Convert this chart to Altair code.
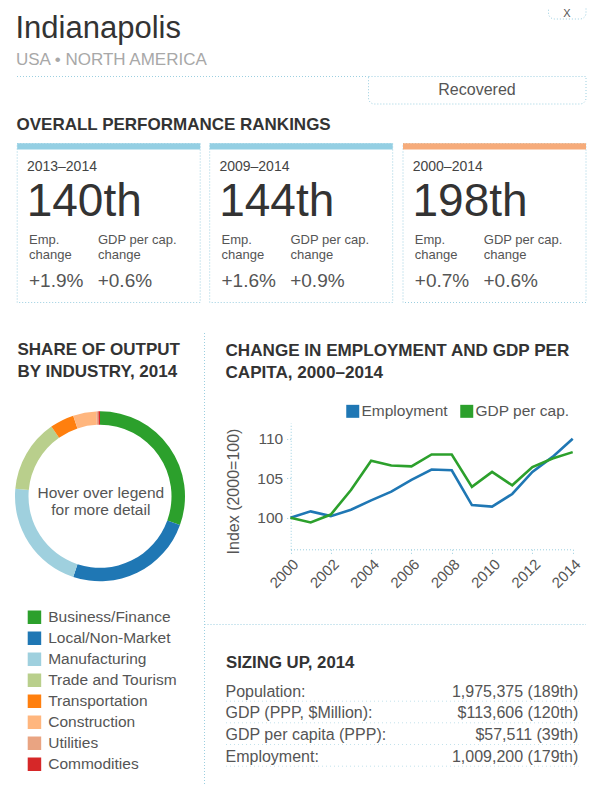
import altair as alt
import pandas as pd

# ------------------------------------------------------------------ data
city = "Indianapolis"
region = "USA • NORTH AMERICA"
status = "Recovered"
close_label = "X"

rank_title = "OVERALL PERFORMANCE RANKINGS"
periods = ["2013–2014", "2009–2014", "2000–2014"]
ranks = ["140th", "144th", "198th"]
emp_label = ["Emp.", "change"]
gdp_label = ["GDP per cap.", "change"]
emp_change = ["+1.9%", "+1.6%", "+0.7%"]
gdp_change = ["+0.6%", "+0.9%", "+0.6%"]

share_title = ["SHARE OF OUTPUT", "BY INDUSTRY, 2014"]
industries = ["Business/Finance", "Local/Non-Market", "Manufacturing",
              "Trade and Tourism", "Transportation", "Construction",
              "Utilities", "Commodities"]
shares = [30.5, 24.6, 21.3, 13.9, 4.6, 4.4, 0.4, 0.3]
donut_note = ["Hover over legend", "for more detail"]

trend_title = ["CHANGE IN EMPLOYMENT AND GDP PER", "CAPITA, 2000–2014"]
series = ["Employment", "GDP per cap."]
years = list(range(2000, 2015))
employment = [100.0, 100.8, 100.2, 101.0, 102.2, 103.3, 104.8, 106.1,
              106.0, 101.6, 101.4, 103.0, 105.8, 107.7, 110.0]
gdp_per_cap = [100.0, 99.4, 100.4, 103.5, 107.2, 106.6, 106.5, 108.0,
               108.0, 103.9, 105.8, 104.1, 106.4, 107.5, 108.3]
y_ticks = [100, 105, 110]
x_ticks = [2000, 2002, 2004, 2006, 2008, 2010, 2012, 2014]
y_title = "Index (2000=100)"

size_title = "SIZING UP, 2014"
size_labels = ["Population:", "GDP (PPP, $Million):", "GDP per capita (PPP):", "Employment:"]
size_values = ["1,975,375 (189th)", "$113,606 (120th)", "$57,511 (39th)", "1,009,200 (179th)"]

# ------------------------------------------------------------------ styles
FONT = "Liberation Sans"
DARK = "#333333"
MID = "#555555"
LIGHT = "#a8a8a8"
RULE = "#9ccfe0"
DOT = [1, 2]
industry_colors = ["#2ca02c", "#1f77b4", "#9fd0de", "#b9cf8c",
                   "#ff7f0e", "#ffb67e", "#e9a482", "#d62728"]
series_colors = ["#1f77b4", "#2ca02c"]
card_stripes = ["#94cfe3", "#94cfe3", "#f6ab7a"]

ONE = pd.DataFrame({"k": [0]})


def label(t, x, y, size, color=MID, weight="normal", align="left"):
    return alt.Chart(ONE).mark_text(
        text=t, font=FONT, fontSize=size, color=color, fontWeight=weight,
        align=align, baseline="alphabetic"
    ).encode(x=alt.value(x), y=alt.value(y))


def hrule(x1, x2, y, color=RULE, dash=DOT):
    return alt.Chart(ONE).mark_rule(color=color, strokeDash=dash, strokeWidth=1).encode(
        x=alt.value(x1), x2=alt.value(x2), y=alt.value(y))


def vrule(x, y1, y2, color=RULE, dash=DOT):
    return alt.Chart(ONE).mark_rule(color=color, strokeDash=dash, strokeWidth=1).encode(
        x=alt.value(x), y=alt.value(y1), y2=alt.value(y2))


def box(x1, x2, y1, y2, radius=0):
    kw = dict(stroke=RULE, strokeWidth=1, strokeDash=DOT, fillOpacity=0)
    if radius:
        kw.update(cornerRadiusBottomLeft=radius, cornerRadiusBottomRight=radius)
    return alt.Chart(ONE).mark_rect(**kw).encode(
        x=alt.value(x1), x2=alt.value(x2), y=alt.value(y1), y2=alt.value(y2))


def band(x1, x2, y1, y2, color):
    return alt.Chart(ONE).mark_rect(color=color).encode(
        x=alt.value(x1), x2=alt.value(x2), y=alt.value(y1), y2=alt.value(y2))


layers = []

# ------------------------------------------------------------------ header
layers += [
    label(city, 7.5, 30, 31, DARK),
    label(region, 8, 57, 17, LIGHT),
    hrule(9, 360.5, 68.5),
    box(360.5, 578, 68.5, 96, radius=6),
    label(status, 469, 87, 16, MID, align="center"),
    box(540.5, 578, -4, 11, radius=6),
    label(close_label, 559, 9, 11, MID, align="center"),
    label(rank_title, 8.5, 122, 17, DARK, "bold"),
]

# ------------------------------------------------------------------ ranking cards
card_left = [9.2, 201.7, 395.0]
for i, cx in enumerate(card_left):
    layers += [
        box(cx, cx + 183, 135.5, 294.5),
        band(cx, cx + 183, 135.3, 141.5, card_stripes[i]),
        label(periods[i], cx + 9.7, 162.7, 14, "#444444"),
        label(ranks[i], cx + 9.5, 208, 46, DARK),
        label(emp_label[0], cx + 11.8, 236, 13, MID),
        label(emp_label[1], cx + 11.8, 251.3, 13, MID),
        label(gdp_label[0], cx + 80.8, 236, 13, MID),
        label(gdp_label[1], cx + 80.8, 251.3, 13, MID),
        label(emp_change[i], cx + 11.8, 279.3, 19, MID),
        label(gdp_change[i], cx + 80.5, 279.3, 19, MID),
    ]

# ------------------------------------------------------------------ separators
layers += [
    vrule(196.5, 325, 777),
    hrule(196.5, 578, 616.5),
]

# ------------------------------------------------------------------ donut
layers += [
    label(share_title[0], 9.5, 347, 17, DARK, "bold"),
    label(share_title[1], 9.5, 368.7, 17, DARK, "bold"),
]
donut_df = pd.DataFrame({"industry": industries, "share": shares,
                         "idx": list(range(len(industries)))})
donut = alt.Chart(donut_df).mark_arc(radius=85, innerRadius=71.5).encode(
    theta=alt.Theta("share:Q", stack=True),
    order=alt.Order("idx:Q"),
    color=alt.Color(
        "industry:N",
        scale=alt.Scale(domain=industries, range=industry_colors),
        legend=alt.Legend(
            orient="none", legendX=18.7, legendY=601.5, direction="vertical",
            title=None, symbolType="square", symbolSize=182, symbolStrokeWidth=0,
            labelFont=FONT, labelFontSize=15.5, labelColor=MID, labelOffset=6,
            rowPadding=4, padding=0, labelLimit=300,
        ),
    ),
    x=alt.value(92),
    y=alt.value(488.3),
)
layers += [
    donut,
    label(donut_note[0], 92.8, 489.7, 15.5, MID, align="center"),
    label(donut_note[1], 92.8, 507, 15.5, MID, align="center"),
]

# ------------------------------------------------------------------ trend lines
layers += [
    label(trend_title[0], 217.5, 348, 17.1, DARK, "bold"),
    label(trend_title[1], 217.5, 369.5, 17.1, DARK, "bold"),
]
trend_df = pd.DataFrame({
    "year": years + years,
    "series": [series[0]] * len(years) + [series[1]] * len(years),
    "value": employment + gdp_per_cap,
})
xs = alt.Scale(domain=[2000, 2014], range=[282.5, 564.7], nice=False, zero=False)
ys = alt.Scale(domain=[96, 112], range=[541.3, 414.9], nice=False, zero=False)
cs = alt.Scale(domain=series, range=series_colors)

lines = alt.Chart(trend_df).mark_line(strokeWidth=2.6).encode(
    x=alt.X("year:Q", scale=xs, axis=alt.Axis(
        orient="bottom", offset=-235.7, values=x_ticks, format="d", grid=False,
        domainColor=RULE, domainDash=DOT, tickColor=RULE, tickDash=DOT, tickSize=5,
        labelFont=FONT, labelFontSize=15, labelColor=MID, labelAngle=315,
        labelAlign="right", labelBaseline="top", labelPadding=2, title=None)),
    y=alt.Y("value:Q", scale=ys, axis=alt.Axis(
        orient="left", offset=-282.7, values=y_ticks, grid=False,
        domainColor=RULE, domainDash=DOT, tickColor=RULE, tickDash=DOT, tickSize=5,
        labelFont=FONT, labelFontSize=15.5, labelColor=MID, labelPadding=3,
        title=y_title, titleFont=FONT, titleFontSize=16, titleFontWeight="normal",
        titleColor=MID, titleAngle=270, titleAlign="center", titleBaseline="middle",
        titleX=-57.4, titleY=483)),
    color=alt.Color("series:N", scale=cs, legend=None),
    order=alt.Order("year:Q"),
)
legend_pts = alt.Chart(pd.DataFrame({"series": series})).mark_square(size=1, opacity=0).encode(
    color=alt.Color("series:N", scale=cs, legend=alt.Legend(
        orient="none", legendX=337, legendY=395.2, direction="horizontal",
        title=None, symbolType="square", symbolSize=169, symbolStrokeWidth=0,
        symbolOpacity=1, labelFont=FONT, labelFontSize=15.5, labelColor=MID,
        labelOffset=1, columnPadding=11, padding=0)),
    x=alt.value(300),
    y=alt.value(500),
)
layers += [lines, legend_pts]

# ------------------------------------------------------------------ sizing up
layers.append(label(size_title, 218, 660, 16.8, DARK, "bold"))
row_base = [688.7, 710.3, 732.0, 753.7]
for i, (lab, val) in enumerate(zip(size_labels, size_values)):
    layers += [
        hrule(218, 570.5, row_base[i] + 4.5, color="#c3e2ec", dash=[1, 3]),
        label(lab, 217.5, row_base[i], 16, MID),
        label(val, 570.3, row_base[i], 16, MID, align="right"),
    ]

chart = alt.layer(*layers).resolve_scale(color="independent").properties(
    width=584, height=777, padding=0,
    autosize=alt.AutoSizeParams(type="none"),
    background="white",
).configure_view(strokeWidth=0)

chart.save("out.html", embed_options={"renderer": "svg", "actions": False})
